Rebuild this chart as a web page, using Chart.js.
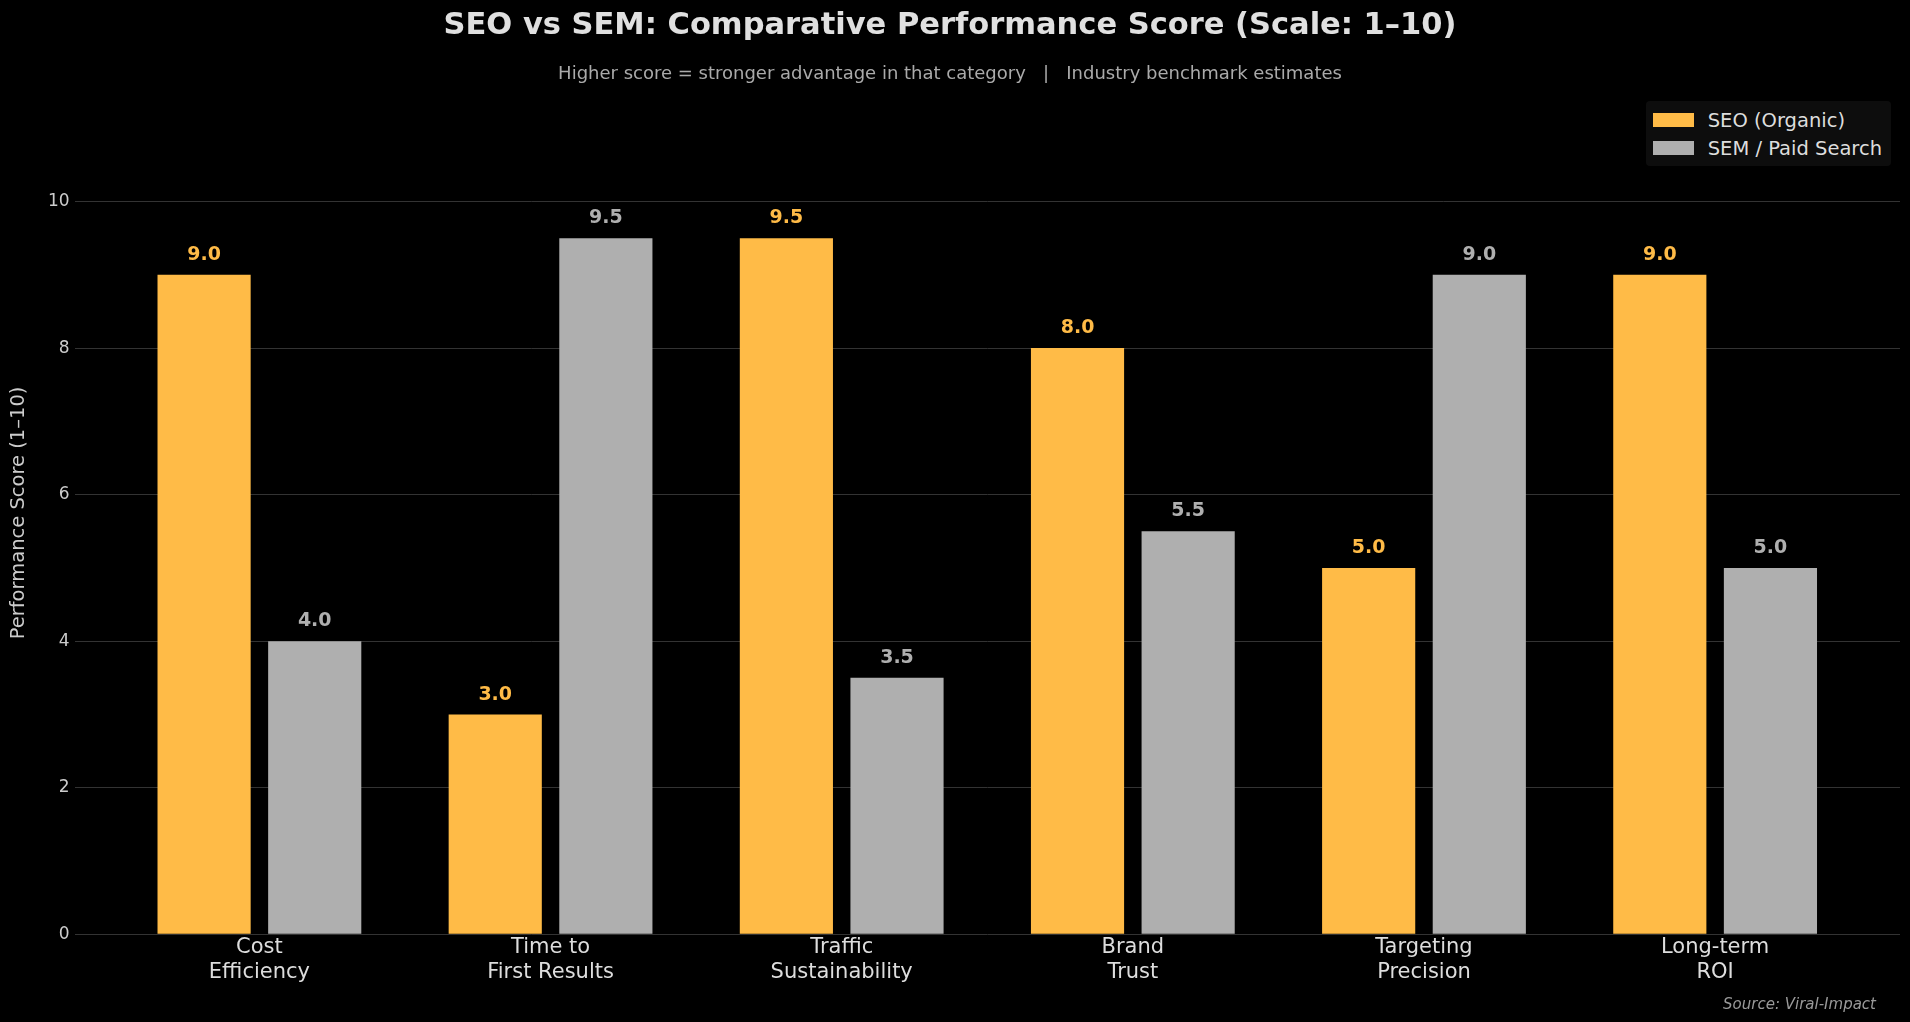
<!DOCTYPE html>
<html>
<head>
<meta charset="utf-8">
<title>SEO vs SEM</title>
<script src="https://cdn.jsdelivr.net/npm/chart.js@4.4.1/dist/chart.umd.min.js"></script>
<style>
    html, body {
        margin: 0;
        padding: 0;
        background: #000;
    }
    #wrap {
        position: relative;
        width: 1910px;
        height: 1022px;
    }
    #legend {
        position: absolute;
        top: 101px;
        right: 19px;
        background: #0d0d0d;
        border-radius: 4px;
        padding: 5px 9px 4px 7px;
        font-family: 'DejaVu Sans', sans-serif;
        font-size: 19.5px;
        color: #dddddd;
    }
    #legend ul {
        list-style: none;
        margin: 0;
        padding: 0;
    }
    #legend li {
        display: flex;
        align-items: center;
        height: 28px;
    }
    #legend .swatch {
        display: inline-block;
        width: 41px;
        height: 14px;
        margin-right: 14px;
    }
</style>
</head>
<body>
<div id="wrap">
    <canvas id="chart"></canvas>
    <div id="legend"></div>
</div>
<script>
// Data
const categories = [
    ['Cost', 'Efficiency'],
    ['Time to', 'First Results'],
    ['Traffic', 'Sustainability'],
    ['Brand', 'Trust'],
    ['Targeting', 'Precision'],
    ['Long-term', 'ROI']
];
const seoScores = [9.0, 3.0, 9.5, 8.0, 5.0, 9.0];
const semScores = [4.0, 9.5, 3.5, 5.5, 9.0, 5.0];
const seriesNames = ['SEO (Organic)', 'SEM / Paid Search'];
const yTicks = [0, 2, 4, 6, 8, 10];
const titleText = 'SEO vs SEM: Comparative Performance Score (Scale: 1–10)';
const subtitleText = 'Higher score = stronger advantage in that category   |   Industry benchmark estimates';
const yAxisTitle = 'Performance Score (1–10)';
const sourceNote = 'Source: Viral-Impact';

const SEO_COLOR = '#ffbb47';
const SEM_COLOR = '#afafaf';

Chart.defaults.font.family = "'DejaVu Sans', sans-serif";

// bar values printed above each bar
const valueLabels = {
    id: 'valueLabels',
    afterDatasetsDraw(chart) {
        const ctx = chart.ctx;
        ctx.save();
        ctx.font = "bold 19px 'DejaVu Sans', sans-serif";
        ctx.textAlign = 'center';
        ctx.textBaseline = 'alphabetic';
        chart.data.datasets.forEach((ds, i) => {
            const meta = chart.getDatasetMeta(i);
            ctx.fillStyle = ds.backgroundColor;
            meta.data.forEach((bar, j) => {
                ctx.fillText(ds.data[j].y.toFixed(1), bar.x, bar.y - 15);
            });
        });
        ctx.restore();
    }
};

// source note, bottom right
const sourceLabel = {
    id: 'sourceLabel',
    afterDraw(chart) {
        const ctx = chart.ctx;
        ctx.save();
        ctx.font = "italic 15px 'DejaVu Sans', sans-serif";
        ctx.fillStyle = '#999999';
        ctx.textAlign = 'right';
        ctx.textBaseline = 'middle';
        ctx.fillText(sourceNote, chart.width - 34, chart.height - 17);
        ctx.restore();
    }
};

// legend box in the top right corner
const htmlLegend = {
    id: 'htmlLegend',
    afterUpdate(chart) {
        const box = document.getElementById('legend');
        box.innerHTML = '';
        const ul = document.createElement('ul');
        chart.data.datasets.forEach(ds => {
            const li = document.createElement('li');
            const sw = document.createElement('span');
            sw.className = 'swatch';
            sw.style.background = ds.backgroundColor;
            li.appendChild(sw);
            li.appendChild(document.createTextNode(ds.label));
            ul.appendChild(li);
        });
        box.appendChild(ul);
    }
};

const ctx = document.getElementById('chart').getContext('2d');

new Chart(ctx, {
    type: 'bar',
    data: {
        datasets: [
            {
                label: seriesNames[0],
                data: seoScores.map((v, i) => ({ x: i, y: v })),
                backgroundColor: SEO_COLOR,
                borderWidth: 0
            },
            {
                label: seriesNames[1],
                data: semScores.map((v, i) => ({ x: i, y: v })),
                backgroundColor: SEM_COLOR,
                borderWidth: 0
            }
        ]
    },
    options: {
        responsive: true,
        maintainAspectRatio: false,
        animation: false,
        categoryPercentage: 0.76,
        barPercentage: 0.842,
        layout: {
            padding: { top: 0, left: 0, right: 10, bottom: 36.5 }
        },
        plugins: {
            legend: { display: false },
            tooltip: { enabled: false },
            title: {
                display: true,
                text: titleText,
                color: '#e0e0e0',
                font: { size: 30.5, weight: 'bold' },
                padding: { top: 7.5, bottom: 19.5 }
            },
            subtitle: {
                display: true,
                text: subtitleText,
                color: '#aaaaaa',
                font: { size: 18 },
                padding: { top: 0, bottom: 6.4 }
            }
        },
        scales: {
            x: {
                type: 'linear',
                offset: false,
                min: -0.635,
                max: 5.635,
                afterBuildTicks: (scale) => {
                    scale.ticks = categories.map((_, i) => ({ value: i }));
                },
                ticks: {
                    autoSkip: false,
                    maxRotation: 0,
                    color: '#dddddd',
                    font: { size: 21, lineHeight: 1.17 },
                    padding: 1,
                    callback: (value) => categories[value]
                },
                grid: { display: false, drawTicks: false },
                border: { display: false }
            },
            y: {
                min: 0,
                max: 11.5,
                afterBuildTicks: (scale) => {
                    scale.ticks = yTicks.map(v => ({ value: v }));
                },
                ticks: {
                    color: '#cccccc',
                    font: { size: 17 },
                    padding: 5
                },
                grid: {
                    color: '#333333',
                    lineWidth: 1,
                    drawTicks: false
                },
                border: { display: false },
                title: {
                    display: true,
                    text: yAxisTitle,
                    color: '#cccccc',
                    font: { size: 19.5 },
                    padding: { top: 7, bottom: 12.5 }
                }
            }
        }
    },
    plugins: [valueLabels, sourceLabel, htmlLegend]
});
</script>
</body>
</html>
